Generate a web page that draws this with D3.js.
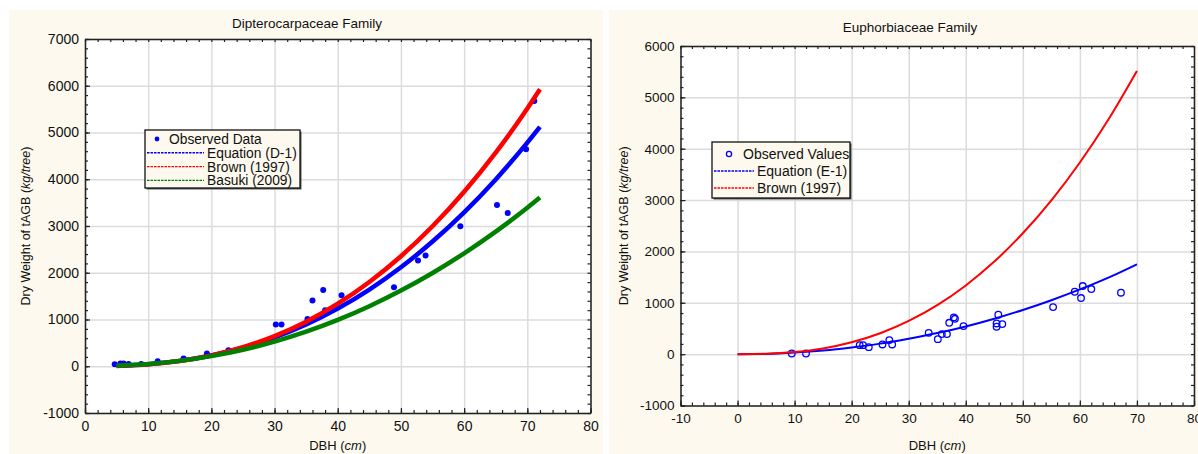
<!DOCTYPE html>
<html>
<head>
<meta charset="utf-8">
<script src="https://cdn.jsdelivr.net/npm/d3@7"></script>
<style>
  body { margin: 0; background: #fff; }
  svg { display: block; font-family: "Liberation Sans", Arial, sans-serif; }
</style>
</head>
<body>
<svg id="chart" width="1198" height="454"></svg>
<script>
(function () {
  'use strict';

  // ── Dipterocarpaceae (left) ────────────────────────────────────────────
  const dipObsD = [4.7, 5.6, 6.1, 6.9, 8.9, 11.5, 15.6, 19.3, 22.7, 30.2, 31.1, 35.2, 36.0, 37.7, 38.0, 40.6, 48.9, 52.7, 53.9, 59.4, 65.2, 66.9, 69.8, 71.1];
  const dipObsW = [43, 57, 57, 50, 50, 107, 168, 275, 342, 891, 891, 1010, 1405, 1633, 1198, 1519, 1690, 2260, 2370, 2995, 3451, 3280, 4642, 5675];
  const dipCurveD = [5, 10, 15, 20, 25, 30, 35, 40, 45, 50, 55, 60, 65, 70, 72];
  const dipEqD1   = [8, 43, 115, 231, 396, 615, 894, 1234, 1641, 2118, 2667, 3292, 3997, 4783, 5120];
  const dipBrown  = [7, 40, 112, 232, 407, 646, 954, 1338, 1802, 2353, 2994, 3732, 4569, 5514, 5925];
  const dipBasuki = [10, 47, 115, 217, 353, 528, 740, 992, 1285, 1619, 1996, 2416, 2880, 3390, 3608];
  const dipXTicks = [0, 10, 20, 30, 40, 50, 60, 70, 80];
  const dipYTicks = [-1000, 0, 1000, 2000, 3000, 4000, 5000, 6000, 7000];

  // ── Euphorbiaceae (right) ──────────────────────────────────────────────
  const eupObsD = [9.5, 12.0, 21.4, 22.0, 23.0, 25.4, 26.6, 27.1, 33.5, 35.1, 35.8, 36.7, 37.1, 37.9, 38.1, 39.6, 45.7, 45.4, 45.4, 46.4, 55.3, 59.1, 60.2, 60.5, 62.0, 67.2];
  const eupObsW = [13, 13, 175, 175, 136, 189, 273, 189, 415, 292, 390, 390, 610, 715, 688, 546, 767, 598, 533, 585, 916, 1215, 1092, 1326, 1267, 1196];
  const eupCurveD = [0, 5, 10, 15, 20, 25, 30, 35, 40, 45, 50, 55, 60, 65, 70];
  const eupEqE1   = [0, 5, 30, 70, 130, 205, 300, 410, 540, 690, 860, 1050, 1260, 1490, 1750];
  const eupBrown  = [0, 7, 40, 112, 232, 407, 646, 954, 1338, 1802, 2353, 2994, 3732, 4569, 5514];
  const eupXTicks = [-10, 0, 10, 20, 30, 40, 50, 60, 70, 80];
  const eupYTicks = [-1000, 0, 1000, 2000, 3000, 4000, 5000, 6000];

  const svg = d3.select('#chart');
  const CREAM = '#fdf9ee';
  const BLUE = '#0000ff', RED = '#ff0000', GREEN = '#008000';
  const FONT = '"Liberation Sans", Arial, sans-serif';

  function zip(xs, ys) { return xs.map((x, i) => ({ x, y: ys[i] })); }

  function drawPanel(cfg) {
    // panel background
    svg.append('rect')
      .attr('x', cfg.bg[0]).attr('y', cfg.bg[1])
      .attr('width', cfg.bg[2]).attr('height', cfg.bg[3])
      .attr('fill', CREAM);

    const w = cfg.right - cfg.left, h = cfg.bottom - cfg.top;
    const x = d3.scaleLinear().domain(cfg.xDomain).range([0, w]);
    const y = d3.scaleLinear().domain(cfg.yDomain).range([h, 0]);

    const g = svg.append('g').attr('transform', `translate(${cfg.left},${cfg.top})`);
    g.append('rect').attr('width', w).attr('height', h).attr('fill', '#fff');

    // grid
    g.append('g').attr('transform', `translate(0,${h})`)
      .call(d3.axisBottom(x).tickValues(cfg.xTicks).tickSize(-h).tickFormat(''))
      .call(a => a.select('.domain').remove())
      .call(a => a.selectAll('.tick line').attr('stroke', '#dcdcdc').attr('stroke-width', 1.5));
    g.append('g')
      .call(d3.axisLeft(y).tickValues(cfg.yTicks).tickSize(-w).tickFormat(''))
      .call(a => a.select('.domain').remove())
      .call(a => a.selectAll('.tick line').attr('stroke', '#dcdcdc').attr('stroke-width', 1.5));

    // observed points (under the curves)
    const pts = zip(cfg.obsD, cfg.obsW);
    const dots = g.append('g').selectAll('circle').data(pts).enter().append('circle')
      .attr('cx', d => x(d.x)).attr('cy', d => y(d.y));
    if (cfg.openDots) {
      dots.attr('r', 3.3).attr('fill', 'none').attr('stroke', BLUE).attr('stroke-width', 1.3);
    } else {
      dots.attr('r', 3).attr('fill', BLUE);
    }

    // fitted curves
    const line = d3.line().x(d => x(d.x)).y(d => y(d.y)).curve(d3.curveMonotoneX);
    cfg.curves.forEach(c => {
      g.append('path')
        .datum(zip(cfg.curveD, c.values))
        .attr('d', line)
        .attr('fill', 'none')
        .attr('stroke', c.color)
        .attr('stroke-width', cfg.curveWidth)
        .attr('stroke-linecap', 'butt');
    });

    // frame ticks, inside on all four sides
    const xMinor = d3.range(cfg.xDomain[0], cfg.xDomain[1] + 0.001, cfg.xMinor);
    const yMinor = d3.range(cfg.yDomain[0], cfg.yDomain[1] + 0.001, cfg.yMinor);
    const tickStyle = a => {
      a.select('.domain').attr('stroke', '#222').attr('stroke-width', 1.5);
      a.selectAll('.tick line').attr('stroke', '#222').attr('stroke-width', 1.2);
    };
    [[d3.axisBottom, `translate(0,${h})`, x, xMinor],
     [d3.axisTop, 'translate(0,0)', x, xMinor],
     [d3.axisLeft, 'translate(0,0)', y, yMinor],
     [d3.axisRight, `translate(${w},0)`, y, yMinor]].forEach(([ax, tr, sc, minor]) => {
      g.append('g').attr('transform', tr)
        .call(ax(sc).tickValues(minor).tickSizeInner(-3).tickSizeOuter(0).tickFormat(''))
        .call(tickStyle);
    });

    // major tick labels (plain hyphen for negatives, as in the original)
    const plain = d => String(d);
    g.append('g').attr('transform', `translate(0,${h})`)
      .call(d3.axisBottom(x).tickValues(cfg.xTicks).tickSize(-5).tickPadding(8).tickFormat(plain))
      .call(a => a.select('.domain').remove())
      .call(a => a.selectAll('.tick line').attr('stroke', '#222').attr('stroke-width', 1.2))
      .call(a => a.selectAll('text').attr('font-size', cfg.tickFont).attr('fill', '#111').attr('font-family', FONT));
    g.append('g')
      .call(d3.axisLeft(y).tickValues(cfg.yTicks).tickSize(-5).tickPadding(6).tickFormat(plain))
      .call(a => a.select('.domain').remove())
      .call(a => a.selectAll('.tick line').attr('stroke', '#222').attr('stroke-width', 1.2))
      .call(a => a.selectAll('text').attr('font-size', cfg.tickFont).attr('fill', '#111').attr('font-family', FONT));

    // title and axis labels
    svg.append('text').attr('x', cfg.titlePos[0]).attr('y', cfg.titlePos[1])
      .attr('text-anchor', 'middle').attr('font-size', 13.5).attr('fill', '#111')
      .text(cfg.title);

    const xl = svg.append('text')
      .attr('x', cfg.left + w / 2).attr('y', cfg.xLabelY)
      .attr('text-anchor', 'middle').attr('font-size', 13).attr('fill', '#111');
    xl.append('tspan').text('DBH (');
    xl.append('tspan').attr('font-style', 'italic').text('cm');
    xl.append('tspan').text(')');

    const yl = svg.append('text')
      .attr('transform', `translate(${cfg.yLabelX},${cfg.top + h / 2}) rotate(-90)`)
      .attr('text-anchor', 'middle').attr('font-size', 12.5).attr('fill', '#111');
    yl.append('tspan').text('Dry Weight of tAGB (');
    yl.append('tspan').attr('font-style', 'italic').text('kg/tree');
    yl.append('tspan').text(')');

    // legend
    const L = cfg.legend;
    const lg = svg.append('g').attr('transform', `translate(${L.x},${L.y})`);
    lg.append('rect').attr('x', 1.5).attr('y', 1.5).attr('width', L.w).attr('height', L.h).attr('fill', '#555');
    lg.append('rect').attr('width', L.w).attr('height', L.h)
      .attr('fill', CREAM).attr('stroke', '#111').attr('stroke-width', 1.3);
    L.items.forEach((it, i) => {
      const cy = L.firstRow + i * L.rowH;
      if (it.type === 'dot') {
        lg.append('circle').attr('cx', L.markerX).attr('cy', cy).attr('r', it.open ? 2.6 : 2.4)
          .attr('fill', it.open ? 'none' : BLUE).attr('stroke', it.open ? BLUE : 'none').attr('stroke-width', 1.3);
        lg.append('text').attr('x', L.dotTextX).attr('y', cy + 5)
          .attr('font-size', L.font).attr('fill', '#111').text(it.label);
      } else {
        lg.append('line').attr('x1', 2).attr('x2', L.lineEnd).attr('y1', cy).attr('y2', cy)
          .attr('stroke', it.color).attr('stroke-width', 1.4).attr('stroke-dasharray', '2.5,1');
        lg.append('text').attr('x', L.lineEnd + 3).attr('y', cy + 5)
          .attr('font-size', L.font).attr('fill', '#111').text(it.label);
      }
    });
  }

  drawPanel({
    bg: [9, 10, 594, 450],
    left: 85, right: 590.5, top: 39, bottom: 413,
    xDomain: [0, 80], yDomain: [-1000, 7000],
    xTicks: dipXTicks, yTicks: dipYTicks, xMinor: 2, yMinor: 200, tickFont: 14,
    obsD: dipObsD, obsW: dipObsW, openDots: false,
    curveD: dipCurveD, curveWidth: 4.5,
    curves: [
      { values: dipEqD1, color: BLUE },
      { values: dipBrown, color: RED },
      { values: dipBasuki, color: GREEN }
    ],
    title: 'Dipterocarpaceae Family', titlePos: [307, 28],
    xLabelY: 450, yLabelX: 30,
    legend: {
      x: 145, y: 130, w: 155, h: 58, firstRow: 9, rowH: 13.8, font: 13.8,
      markerX: 12, dotTextX: 24, lineEnd: 59,
      items: [
        { type: 'dot', label: 'Observed Data' },
        { type: 'line', color: BLUE, label: 'Equation (D-1)' },
        { type: 'line', color: RED, label: 'Brown (1997)' },
        { type: 'line', color: GREEN, label: 'Basuki (2009)' }
      ]
    }
  });

  drawPanel({
    bg: [609, 10, 600, 450],
    left: 680.5, right: 1194, top: 46, bottom: 405.5,
    xDomain: [-10, 80], yDomain: [-1000, 6000],
    xTicks: eupXTicks, yTicks: eupYTicks, xMinor: 2, yMinor: 200, tickFont: 13.5,
    obsD: eupObsD, obsW: eupObsW, openDots: true,
    curveD: eupCurveD, curveWidth: 2,
    curves: [
      { values: eupEqE1, color: BLUE },
      { values: eupBrown, color: RED }
    ],
    title: 'Euphorbiaceae Family', titlePos: [910, 32],
    xLabelY: 450, yLabelX: 628,
    legend: {
      x: 712, y: 142, w: 138, h: 56, firstRow: 12, rowH: 17, font: 14,
      markerX: 17, dotTextX: 31, lineEnd: 42,
      items: [
        { type: 'dot', open: true, label: 'Observed Values' },
        { type: 'line', color: BLUE, label: 'Equation (E-1)' },
        { type: 'line', color: RED, label: 'Brown (1997)' }
      ]
    }
  });
})();
</script>
</body>
</html>
